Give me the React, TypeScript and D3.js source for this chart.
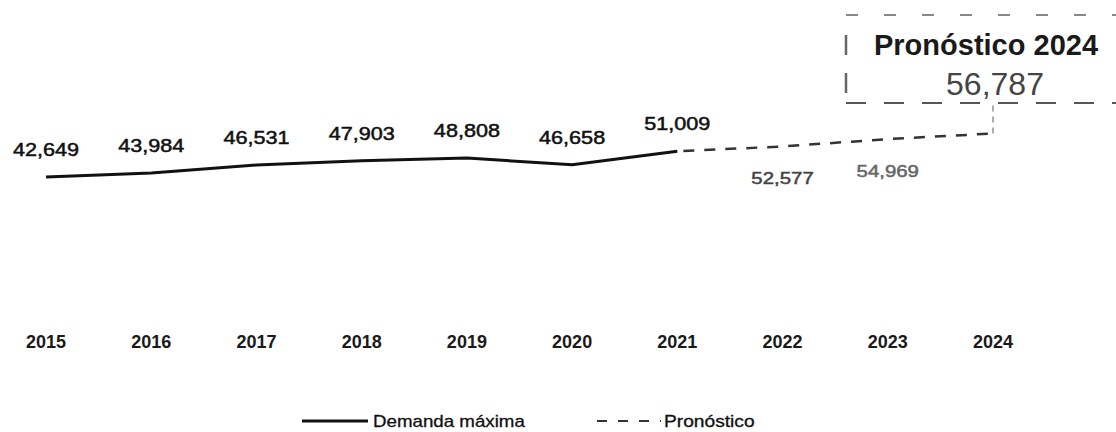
import React from "react";
import * as d3 from "d3";

const years = ["2015", "2016", "2017", "2018", "2019", "2020", "2021", "2022", "2023", "2024"];
const actualYears = ["2015", "2016", "2017", "2018", "2019", "2020", "2021"];
const actualValues = [42649, 43984, 46531, 47903, 48808, 46658, 51009];
const forecastYears = ["2021", "2022", "2023", "2024"];
const forecastValues = [51009, 52577, 54969, 56787];
const forecastLabelYears = ["2022", "2023"];
const forecastLabelValues = [52577, 54969];
const boxTitle = "Pronóstico 2024";
const boxValue = 56787;
const legendLabels = ["Demanda máxima", "Pronóstico"];

const W = 1116;
const H = 432;
const FONT = "'Liberation Sans', Arial, Helvetica, sans-serif";
const fmt = d3.format(",");

function SText({ x, y, sx = 1, anchor = "middle", size, weight = "normal", fill = "#111", sw = 0, children }: any) {
  return (
    <text
      transform={`translate(${x},${y}) scale(${sx},1)`}
      textAnchor={anchor}
      fontSize={size}
      fontWeight={weight}
      fill={fill}
      stroke={sw > 0 ? fill : "none"}
      strokeWidth={sw}
      fontFamily={FONT}
    >
      {children}
    </text>
  );
}

export default function App() {
  const x = d3.scalePoint<string>().domain(years).range([46, 993]);
  const y = d3.scaleLinear().domain([40000, 60000]).range([185.2, 123.6]);

  const line = d3
    .line<number>()
    .x((_, i) => x(actualYears[i]) as number)
    .y((d) => y(d));
  const fline = d3
    .line<number>()
    .x((_, i) => x(forecastYears[i]) as number)
    .y((d) => y(d));

  const x24 = x("2024") as number;
  const y24 = y(boxValue);
  const boxL = 846;
  const boxT = 15;
  const boxB = 103;

  return (
    <svg
      width={W}
      height={H}
      style={{ position: "absolute", left: 0, top: 0, background: "#fff" }}
    >
      <rect width={W} height={H} fill="#fff" />
      {/* actual line */}
      <path d={line(actualValues) || ""} fill="none" stroke="#111" strokeWidth={3} strokeLinejoin="round" />
      {/* forecast dashed line */}
      <path
        d={fline(forecastValues) || ""}
        fill="none"
        stroke="#333"
        strokeWidth={2.5}
        strokeDasharray="11 10"
        strokeDashoffset={-6}
      />
      {/* connector to box */}
      <line x1={x24} x2={x24} y1={y24} y2={boxB} stroke="#777" strokeWidth={1.2} strokeDasharray="6 5" />

      {/* data labels actual */}
      {actualValues.map((v, i) => (
        <SText key={i} x={x(actualYears[i])} y={y(v) - 21} size={18} sx={1.2} sw={0.5}>
          {fmt(v)}
        </SText>
      ))}
      {/* forecast labels */}
      {forecastLabelValues.map((v, i) => (
        <SText key={i} x={x(forecastLabelYears[i])} y={y(v) + 38} size={17} sx={1.2} sw={0.5} fill={i === 0 ? "#444" : "#666"}>
          {fmt(v)}
        </SText>
      ))}

      {/* forecast box */}
      <line x1={boxL} x2={W} y1={boxT} y2={boxT} stroke="#888" strokeWidth={2} strokeDasharray="12 26" />
      <line x1={boxL} x2={W} y1={boxB} y2={boxB} stroke="#555" strokeWidth={2} strokeDasharray="20 18" />
      <line x1={boxL} x2={boxL} y1={boxT + 20} y2={boxB} stroke="#666" strokeWidth={2.5} strokeDasharray="20 18" />
      <SText x={986} y={55} size={29} weight="bold" fill="#1a1a1a">
        {boxTitle}
      </SText>
      <SText x={995} y={95} size={32} fill="#444">
        {fmt(boxValue)}
      </SText>

      {/* x axis year labels */}
      {years.map((yr) => (
        <SText key={yr} x={x(yr)} y={348} size={18} weight="bold" sx={1.0} fill="#1a1a1a">
          {yr}
        </SText>
      ))}

      {/* legend */}
      <line x1={302} x2={368} y1={421} y2={421} stroke="#111" strokeWidth={3} />
      <SText x={373} y={427} size={16} sx={1.17} anchor="start" sw={0.3}>
        {legendLabels[0]}
      </SText>
      <line x1={597} x2={661} y1={421} y2={421} stroke="#333" strokeWidth={2} strokeDasharray="10 11" />
      <SText x={664} y={427} size={16} sx={1.2} anchor="start" sw={0.3}>
        {legendLabels[1]}
      </SText>
    </svg>
  );
}
